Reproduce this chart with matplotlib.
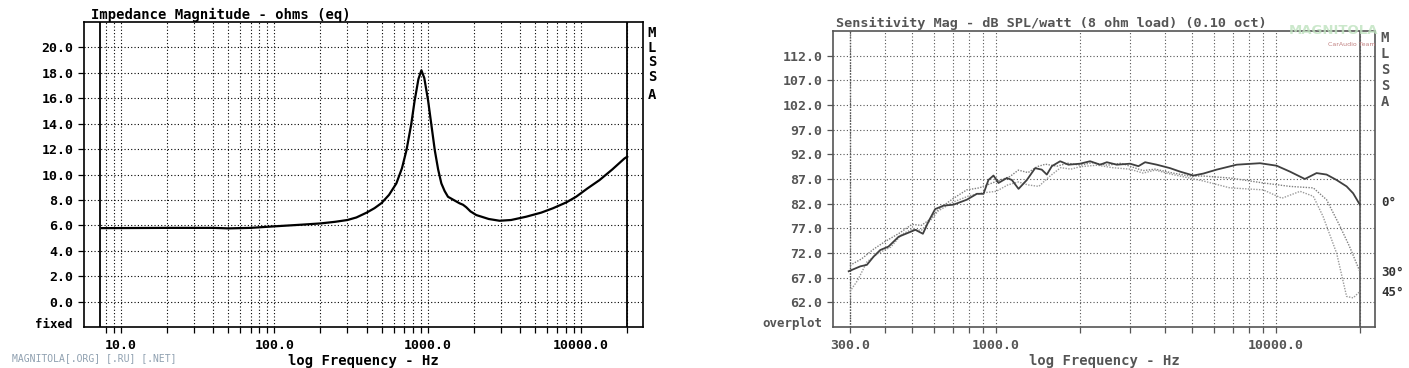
import matplotlib
matplotlib.use("Agg")
import matplotlib.pyplot as plt
from matplotlib.ticker import FixedLocator, NullFormatter

# ---------------- data ----------------
imp_freq = [7.5, 20, 40, 45, 50, 70, 100, 150, 200, 250, 300, 343, 400, 450, 500, 560, 625,
            680, 727, 780, 822, 870, 910, 950, 1007, 1060, 1113, 1170, 1228, 1290, 1356,
            1500, 1616, 1700, 1786, 1900, 2075, 2500, 2944, 3500, 4394, 5500, 6550, 8000,
            9290, 11000, 13200, 16000, 19190, 20000]
imp_ohms = [5.78, 5.8, 5.8, 5.78, 5.76, 5.8, 5.92, 6.05, 6.15, 6.28, 6.42, 6.62, 7.0, 7.35,
            7.75, 8.4, 9.3, 10.5, 11.9, 13.9, 15.8, 17.5, 18.2, 17.6, 15.8, 13.8, 11.9, 10.4,
            9.3, 8.7, 8.25, 7.95, 7.73, 7.62, 7.42, 7.1, 6.81, 6.5, 6.36, 6.42, 6.68, 7.0,
            7.34, 7.8, 8.25, 8.9, 9.56, 10.4, 11.26, 11.4]

spl0_freq = [297, 327, 345, 365, 385, 412, 448, 480, 514, 547, 573, 605, 648, 704, 785, 853,
             901, 938, 978, 1019, 1092, 1138, 1202, 1287, 1378, 1455, 1517, 1581, 1693, 1812,
             1995, 2166, 2352, 2486, 2698, 3011, 3224, 3406, 3750, 4184, 4540, 5070, 5500,
             6140, 7240, 8770, 10050, 11220, 12690, 13970, 15170, 16470, 17890, 18880, 19950]
spl0_db = [68.3, 69.3, 69.6, 71.3, 72.6, 73.3, 75.3, 76.0, 76.7, 75.9, 78.4, 80.9, 81.6, 81.8,
           82.8, 84.0, 84.0, 86.8, 87.7, 86.2, 87.2, 86.8, 85.0, 86.8, 89.2, 88.9, 87.9, 89.6,
           90.6, 89.9, 90.1, 90.6, 89.9, 90.4, 89.9, 90.1, 89.6, 90.4, 89.9, 89.2, 88.5, 87.7,
           88.1, 88.9, 89.9, 90.2, 89.7, 88.5, 87.0, 88.2, 87.9, 86.8, 85.5, 84.1, 81.8]

spl30_freq = [300, 330, 365, 400, 450, 500, 540, 580, 620, 700, 785, 870, 1000, 1120, 1200,
              1300, 1400, 1500, 1650, 1800, 2000, 2200, 2500, 2800, 3000, 3350, 3700, 4200,
              4900, 5500, 6850, 9000, 11220, 13600, 15170, 16950, 18330, 19950]
spl30_db = [69.5, 70.8, 72.8, 74.3, 76.0, 77.8, 77.6, 78.8, 80.8, 83.0, 84.8, 85.2, 86.5, 87.5,
            88.8, 88.3, 89.5, 90.0, 89.6, 90.2, 89.8, 90.3, 89.8, 90.2, 89.6, 88.7, 89.0, 88.3,
            87.6, 87.6, 87.2, 86.2, 85.5, 85.2, 82.8, 77.4, 73.3, 68.25]

spl45_freq = [300, 320, 345, 380, 420, 460, 500, 540, 580, 620, 700, 800, 900, 1000, 1100,
              1200, 1300, 1420, 1550, 1700, 1850, 2000, 2300, 2600, 3000, 3350, 3700, 4200,
              4900, 5500, 6850, 9000, 10500, 12200, 13600, 14740, 16470, 17890, 18880, 19950]
spl45_db = [64.2, 66.5, 70.2, 72.0, 73.2, 75.8, 76.8, 76.6, 78.5, 80.5, 82.3, 83.6, 84.2, 84.5,
            85.8, 86.4, 85.8, 85.5, 87.5, 89.3, 89.0, 89.5, 89.8, 89.3, 89.0, 88.2, 88.8, 88.0,
            87.2, 86.6, 85.2, 84.8, 83.1, 84.5, 83.5, 79.4, 72.0, 63.2, 62.9, 64.2]

imp_yticks = [0, 2, 4, 6, 8, 10, 12, 14, 16, 18, 20]
imp_xmajor = [10, 100, 1000, 10000]
imp_xlabels = ["10.0", "100.0", "1000.0", "10000.0"]
spl_yticks = [62, 67, 72, 77, 82, 87, 92, 97, 102, 107, 112]
spl_xmajor = [300, 1000, 10000]
spl_xlabels = ["300.0", "1000.0", "10000.0"]
angle_labels = ["0°", "30°", "45°"]

# ---------------- figure ----------------
W, H = 1409, 368
fig = plt.figure(figsize=(W / 100, H / 100), dpi=100)
fig.patch.set_facecolor("white")
MONO = "DejaVu Sans Mono"


def fx(px):
    return px / W


def fy(py):
    return 1 - py / H


def minor_positions(lo_dec, hi_dec):
    out = []
    for d in range(lo_dec, hi_dec + 1):
        for m in range(2, 10):
            out.append(m * 10 ** d)
    return out


def style_axes(ax, color, yt, ylab, xmaj, xlab, xminor, fs):
    ax.set_xscale("log")
    ax.set_yticks(yt)
    ax.set_yticklabels(ylab)
    ax.xaxis.set_major_locator(FixedLocator(xmaj))
    ax.set_xticklabels(xlab)
    ax.xaxis.set_minor_locator(FixedLocator(xminor))
    ax.xaxis.set_minor_formatter(NullFormatter())
    for sp in ax.spines.values():
        sp.set_color(color)
        sp.set_linewidth(1.2)
    ax.tick_params(axis="both", which="both", direction="out", length=4.5, width=0.9,
                   colors=color, labelcolor=color)
    ax.tick_params(axis="y", pad=3)
    ax.tick_params(axis="x", pad=4)
    for lab in ax.get_xticklabels() + ax.get_yticklabels():
        lab.set_fontfamily(MONO)
        lab.set_fontweight("bold")
        lab.set_fontsize(fs)
    ax.grid(True, which="both", axis="both", color=color, linestyle=(0, (1, 2)),
            linewidth=0.8)
    ax.set_axisbelow(True)


# ---------- left: impedance ----------
axL = fig.add_axes([fx(84), fy(327), fx(643 - 84), fy(22) - fy(327)])
axL.set_xlim(5.74, 25360)
axL.set_ylim(-2, 22)
style_axes(axL, "black", imp_yticks, [f"{v:.1f}" for v in imp_yticks], imp_xmajor,
           imp_xlabels, [8, 9] + minor_positions(1, 3) + [20000], 9.5)
axL.axvline(7.3, color="black", lw=1.3)
axL.axvline(20000, color="black", lw=1.3)
axL.plot(imp_freq, imp_ohms, color="black", lw=1.6)
axL.set_title("Impedance Magnitude - ohms (eq)", fontfamily=MONO, fontweight="bold",
              fontsize=10, loc="left", x=0.012, pad=2)
fig.text(fx(363), fy(361), "log Frequency - Hz", ha="center", va="center",
         fontfamily=MONO, fontweight="bold", fontsize=10)
fig.text(fx(73), fy(324), "fixed", ha="right", va="center", fontfamily=MONO,
         fontweight="bold", fontsize=9)
for ch, py in zip("MLSSA", [33, 47.5, 62, 77, 95]):
    fig.text(fx(652), fy(py), ch, ha="center", va="center", fontfamily=MONO,
             fontweight="bold", fontsize=10)
fig.text(fx(12), fy(358), "MAGNITOLA[.ORG] [.RU] [.NET]", ha="left", va="center",
         fontfamily=MONO, fontsize=7, color="#8fa0b0")

# ---------- right: sensitivity ----------
GR = "#555555"
axR = fig.add_axes([fx(833), fy(327), fx(1375 - 833), fy(31) - fy(327)])
axR.set_xlim(261, 22600)
axR.set_ylim(57, 117)
style_axes(axR, GR, spl_yticks, [f"{v:.1f}" for v in spl_yticks], spl_xmajor,
           spl_xlabels, [400, 500, 600, 700, 800, 900] + minor_positions(3, 3) + [20000],
           9.5)
axR.axvline(300, color=GR, lw=1.0, linestyle=(0, (1, 1)))
axR.axvline(20000, color=GR, lw=1.2)
axR.plot(spl30_freq, spl30_db, color="#808080", lw=1.0, linestyle=(0, (1, 1)))
axR.plot(spl45_freq, spl45_db, color="#9a9a9a", lw=1.0, linestyle=(0, (1, 1)))
axR.plot(spl0_freq, spl0_db, color="#404040", lw=1.3)
axR.set_title("Sensitivity Mag - dB SPL/watt (8 ohm load) (0.10 oct)", fontfamily=MONO,
              fontweight="bold", fontsize=9.7, color=GR, loc="left", x=0.005, pad=3)
fig.text(fx(1104), fy(361), "log Frequency - Hz", ha="center", va="center",
         fontfamily=MONO, fontweight="bold", fontsize=10, color=GR)
fig.text(fx(822), fy(324), "overplot", ha="right", va="center", fontfamily=MONO,
         fontweight="bold", fontsize=9, color=GR)

# watermark
fig.text(fx(1334), fy(30), "MAGNITOLA", ha="center", va="center", fontfamily="DejaVu Sans",
         fontweight="bold", fontsize=9.5, color="#bfe3bf", alpha=0.8)
fig.text(fx(1352), fy(45), "CarAudio Team", ha="center", va="center",
         fontfamily="DejaVu Sans", fontsize=4.5, color="#c08080")

for ch, py in zip("MLSSA", [38, 54, 70, 86, 102]):
    fig.text(fx(1385), fy(py), ch, ha="center", va="center", fontfamily=MONO,
             fontweight="bold", fontsize=10, color=GR)
for lab, py in zip(angle_labels, [203, 272, 292]):
    fig.text(fx(1381), fy(py), lab, ha="left", va="center", fontfamily=MONO,
             fontweight="bold", fontsize=9, color="#333333")

fig.savefig("out.png", dpi=100, facecolor="white")
